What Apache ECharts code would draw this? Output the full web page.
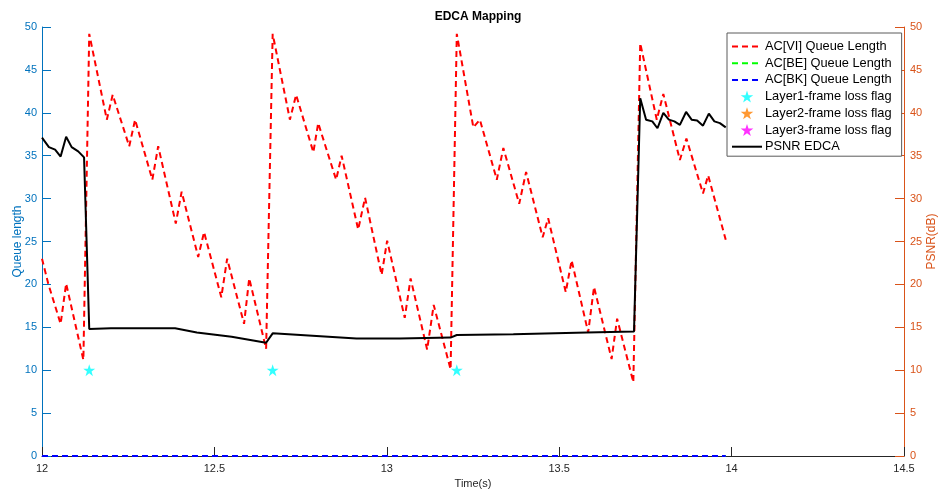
<!DOCTYPE html>
<html>
<head>
<meta charset="utf-8">
<script src="https://cdn.jsdelivr.net/npm/echarts@6/dist/echarts.min.js"></script>
<style>html,body{margin:0;padding:0;background:#fff}#c{width:941px;height:494px}</style>
</head>
<body>
<div id="c"></div>
<script>
// Time (s) and AC[VI] queue length samples
const viData = [
  [12.0, 23.0], [12.018, 20.1], [12.054, 15.4], [12.07, 20.1], [12.12, 11.2],
  [12.137, 49.2], [12.188, 39.2], [12.205, 42.1], [12.253, 36.1], [12.27, 39.2],
  [12.32, 32.2], [12.337, 36.1], [12.388, 27.1], [12.405, 30.8], [12.453, 23.2],
  [12.47, 26.1], [12.52, 18.5], [12.537, 23.0], [12.586, 15.4], [12.601, 20.7],
  [12.65, 12.5], [12.669, 49.2], [12.719, 39.2], [12.737, 42.1], [12.787, 35.4],
  [12.801, 38.8], [12.853, 32.2], [12.869, 35.0], [12.917, 26.4], [12.937, 30.1],
  [12.985, 21.1], [13.001, 25.1], [13.052, 16.1], [13.069, 20.7], [13.117, 12.4],
  [13.136, 17.6], [13.185, 10.1], [13.203, 49.2], [13.251, 38.3], [13.27, 39.2],
  [13.319, 32.2], [13.338, 35.9], [13.384, 29.4], [13.404, 33.1], [13.452, 25.5],
  [13.468, 27.7], [13.519, 19.1], [13.536, 22.8], [13.584, 14.4], [13.601, 19.7],
  [13.652, 11.3], [13.668, 16.0], [13.715, 8.6], [13.735, 48.1], [13.783, 39.2],
  [13.802, 42.2], [13.85, 34.5], [13.869, 37.0], [13.917, 30.6], [13.932, 32.7],
  [13.983, 25.2]
];
const beData = [[12.0, 0], [13.983, 0]];
const bkData = [[12.0, 0], [13.983, 0]];
const layer1Loss = [[12.137, 10], [12.669, 10], [13.203, 10]];
const layer2Loss = [];
const layer3Loss = [];
const psnrData = [
  [12.0, 37.1], [12.02, 36.0], [12.038, 35.7], [12.054, 34.9], [12.07, 37.2],
  [12.086, 36.0], [12.105, 35.5], [12.122, 34.8], [12.137, 14.8], [12.2, 14.9],
  [12.3, 14.9], [12.386, 14.9], [12.449, 14.4], [12.55, 13.9], [12.65, 13.2],
  [12.669, 14.3], [12.796, 14.0], [12.912, 13.7], [13.038, 13.7], [13.185, 13.8],
  [13.203, 14.1], [13.367, 14.2], [13.58, 14.4], [13.717, 14.5], [13.735, 41.7],
  [13.752, 39.2], [13.77, 39.0], [13.785, 38.2], [13.802, 40.0], [13.818, 39.2],
  [13.834, 39.0], [13.85, 38.6], [13.868, 40.1], [13.884, 39.2], [13.9, 39.1],
  [13.917, 38.5], [13.934, 39.9], [13.95, 39.0], [13.966, 38.8], [13.983, 38.3]
];
const seriesNames = ['AC[VI] Queue Length', 'AC[BE] Queue Length', 'AC[BK] Queue Length',
  'Layer1-frame loss flag', 'Layer2-frame loss flag', 'Layer3-frame loss flag', 'PSNR EDCA'];
const lineSeriesNames = [seriesNames[0], seriesNames[1], seriesNames[2], seriesNames[6]];

const FONT = 'Liberation Sans, Arial, Helvetica, sans-serif';
const LEFT_C = '#0072BD', RIGHT_C = '#D95319', AX_C = '#262626';
const STAR = 'path://M50,0 L61.2,34.5 L97.6,34.5 L68.2,55.9 L79.4,90.5 L50,69.1 L20.6,90.5 L31.8,55.9 L2.4,34.5 L38.8,34.5 Z';

const legendData = seriesNames.map(n => lineSeriesNames.indexOf(n) >= 0
  ? {name: n, itemStyle: {color: 'rgba(0,0,0,0)', borderWidth: 0, opacity: 0}}
  : {name: n});

const chart = echarts.init(document.getElementById('c'), null, {renderer: 'canvas'});
chart.setOption({
  animation: false,
  backgroundColor: '#fff',
  textStyle: {fontFamily: FONT},
  title: {
    text: 'EDCA Mapping', left: 473, textAlign: 'center', top: 6,
    textStyle: {fontSize: 12, fontWeight: 'bold', color: '#000', fontFamily: FONT}
  },
  grid: {left: 42, right: 37, top: 27, bottom: 38, containLabel: false, outerBoundsMode: 'none'},
  legend: {
    orient: 'vertical', left: 727, top: 33,
    padding: [7, 10, 3, 4],
    itemWidth: 30, itemHeight: 12, itemGap: 3.7,
    backgroundColor: '#fff', borderColor: '#5a5a5a', borderWidth: 1,
    textStyle: {fontSize: 12.8, color: '#000', fontFamily: FONT, padding: [0, 0, 0, -2]},
    data: legendData
  },
  xAxis: {
    type: 'value', min: 12, max: 14.5, interval: 0.5,
    name: 'Time(s)', nameLocation: 'middle', nameGap: 22, nameMoveOverlap: false,
    nameTextStyle: {fontSize: 11, color: AX_C},
    axisLine: {onZero: false, lineStyle: {color: AX_C, width: 1}},
    axisTick: {inside: true, length: 9, lineStyle: {color: AX_C}},
    axisLabel: {fontSize: 11, color: AX_C, margin: 7},
    splitLine: {show: false}
  },
  yAxis: [{
    type: 'value', min: 0, max: 50, interval: 5, position: 'left',
    name: 'Queue length', nameLocation: 'middle', nameGap: 18, nameMoveOverlap: false,
    nameTextStyle: {fontSize: 12, color: LEFT_C},
    axisLine: {show: true, lineStyle: {color: LEFT_C, width: 1}},
    axisTick: {show: true, inside: true, length: 9, lineStyle: {color: LEFT_C}},
    axisLabel: {fontSize: 11, color: LEFT_C, margin: 5},
    splitLine: {show: false}
  }, {
    type: 'value', min: 0, max: 50, interval: 5, position: 'right',
    name: 'PSNR(dB)', nameLocation: 'middle', nameGap: 22, nameMoveOverlap: false,
    nameTextStyle: {fontSize: 12, color: RIGHT_C},
    axisLine: {show: true, lineStyle: {color: RIGHT_C, width: 1}},
    axisTick: {show: true, inside: true, length: 9, lineStyle: {color: RIGHT_C}},
    axisLabel: {fontSize: 11, color: RIGHT_C, margin: 6},
    splitLine: {show: false}
  }],
  series: [{
    name: seriesNames[0], type: 'line', yAxisIndex: 0, data: viData,
    symbol: 'none', color: '#FF0000',
    lineStyle: {color: '#FF0000', width: 2, type: [6, 4]}, z: 3
  }, {
    name: seriesNames[1], type: 'line', yAxisIndex: 0, data: beData,
    symbol: 'none', color: '#00FF00',
    lineStyle: {color: '#00FF00', width: 2, type: [6, 4]}, z: 3
  }, {
    name: seriesNames[2], type: 'line', yAxisIndex: 0, data: bkData,
    symbol: 'none', color: '#0000FF',
    lineStyle: {color: '#0000FF', width: 2, type: [6, 4]}, z: 4
  }, {
    name: seriesNames[3], type: 'scatter', yAxisIndex: 0, data: layer1Loss,
    symbol: STAR, symbolSize: 12, itemStyle: {color: '#00FFFF'}, z: 5
  }, {
    name: seriesNames[4], type: 'scatter', yAxisIndex: 0, data: layer2Loss,
    symbol: STAR, symbolSize: 12, itemStyle: {color: '#FF8000'}, z: 5
  }, {
    name: seriesNames[5], type: 'scatter', yAxisIndex: 0, data: layer3Loss,
    symbol: STAR, symbolSize: 12, itemStyle: {color: '#FF00FF'}, z: 5
  }, {
    name: seriesNames[6], type: 'line', yAxisIndex: 1, data: psnrData,
    symbol: 'none', color: '#000000',
    lineStyle: {color: '#000000', width: 2}, z: 4
  }]
});
</script>
</body>
</html>
